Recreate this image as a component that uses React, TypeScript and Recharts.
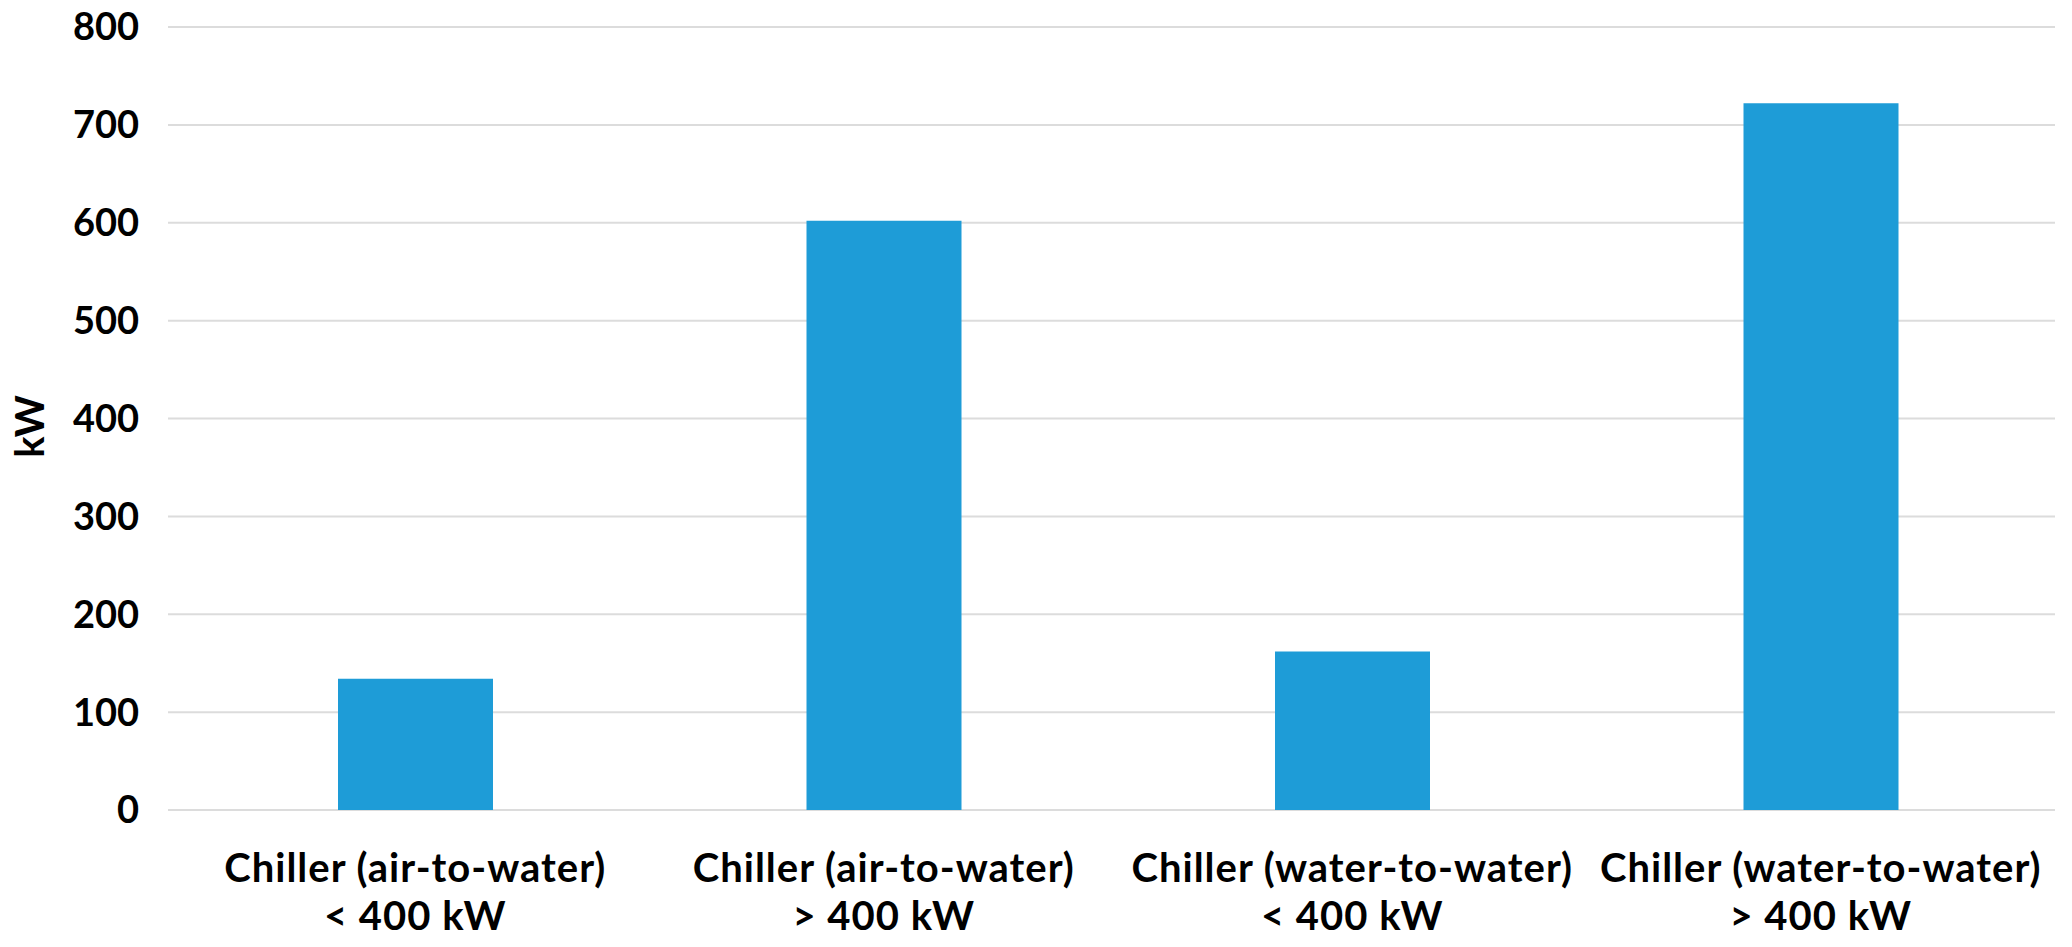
import React from 'react';
import { BarChart, Bar, XAxis, YAxis, CartesianGrid } from 'recharts';

const categoryTypes = [
  'Chiller (air-to-water)',
  'Chiller (air-to-water)',
  'Chiller (water-to-water)',
  'Chiller (water-to-water)',
];
const categorySizes = ['< 400 kW', '> 400 kW', '< 400 kW', '> 400 kW'];
const capacityKW = [134, 602, 162, 722];
const yTicks = [0, 100, 200, 300, 400, 500, 600, 700, 800];
const yLabel = 'kW';

const data = categoryTypes.map((t, i) => ({
  key: `${t}|${categorySizes[i]}`,
  type: t,
  size: categorySizes[i],
  value: capacityKW[i],
}));

const FONT = 'Lato, "Open Sans", sans-serif';
const TICK_FONT_SIZE = 38;
const CAT_FONT_SIZE = 40;

const XTick = (props: any) => {
  const { x, y, payload } = props;
  const [line1, line2] = String(payload.value).split('|');
  return (
    <text
      x={x}
      y={y}
      textAnchor="middle"
      fontFamily={FONT}
      fontWeight={700}
      fontSize={CAT_FONT_SIZE}
      letterSpacing={1}
      fill="#000"
    >
      <tspan x={x} dy={72}>{line1}</tspan>
      <tspan x={x} dy={48}>{line2}</tspan>
    </text>
  );
};

const YLabel = (props: any) => {
  const { viewBox } = props;
  const cx = 29;
  const cy = viewBox.y + viewBox.height / 2 + 8;
  return (
    <text
      x={cx}
      y={cy}
      transform={`rotate(-90, ${cx}, ${cy})`}
      textAnchor="middle"
      dominantBaseline="central"
      fontFamily={FONT}
      fontWeight={700}
      fontSize={40}
      fill="#000"
    >
      {yLabel}
    </text>
  );
};

export default function App() {
  return (
    <div style={{ position: 'absolute', left: 0, top: 0, width: 2072, height: 947, background: '#fff' }}>
      <BarChart
        width={2072}
        height={947}
        data={data}
        margin={{ top: 27, right: 17, bottom: 0, left: 0 }}
        barSize={155}
      >
        <CartesianGrid vertical={false} stroke="#DCDCDC" strokeWidth={2} />
        <XAxis
          dataKey="key"
          axisLine={false}
          tickLine={false}
          tickSize={0}
          tickMargin={0}
          height={137}
          interval={0}
          padding={{ left: 13, right: 0 }}
          tick={<XTick />}
        />
        <YAxis
          domain={[0, 800]}
          ticks={yTicks}
          axisLine={false}
          tickLine={false}
          tickSize={0}
          tickMargin={29}
          width={168}
          tick={{ fontFamily: FONT, fontWeight: 700, fontSize: TICK_FONT_SIZE, fill: '#000' }}
          label={<YLabel />}
        />
        <Bar dataKey="value" fill="#1E9CD7" isAnimationActive={false} />
      </BarChart>
    </div>
  );
}
